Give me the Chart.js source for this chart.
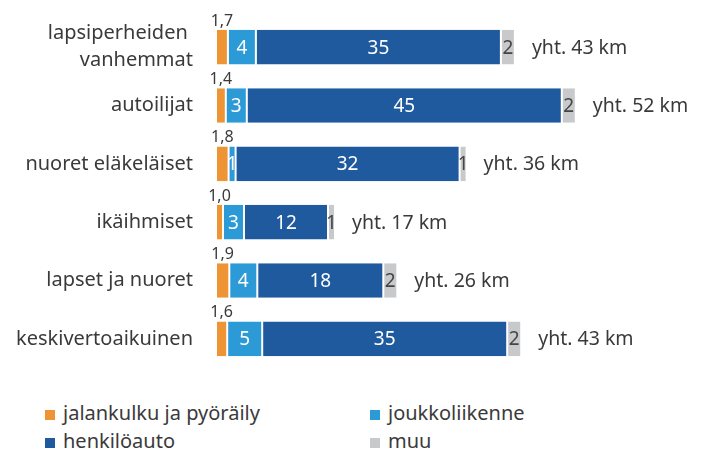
<!DOCTYPE html>
<html>
<head>
<meta charset="utf-8">
<script src="https://cdn.jsdelivr.net/npm/chart.js@4.4.1/dist/chart.umd.min.js"></script>
<style>
    body{margin:0;background:#fff;font-family:'Noto Sans',sans-serif;color:#3a3a3a}
    #wrap{position:relative;width:715px;height:375px}
    #legend{position:absolute;left:0;top:375px;width:715px;height:75px}
    .item{position:absolute;font-size:20px;line-height:28px;white-space:nowrap}
    .item span{display:inline-block;width:10px;height:10px;margin-right:8px;vertical-align:0px}
</style>
</head>
<body>
<div id="wrap"><canvas id="grafico"></canvas></div>
<div id="legend"></div>
<script>
// ryhmät
var ryhmat = [['lapsiperheiden ', 'vanhemmat'], 'autoilijat', 'nuoret eläkeläiset', 'ikäihmiset', 'lapset ja nuoret', 'keskivertoaikuinen']

// km / vrk kulkutavoittain
var jalankulku = [1.7, 1.4, 1.8, 1.0, 1.9, 1.6]
var joukkoliikenne = [4, 3, 1, 3, 4, 5]
var henkiloauto = [35, 45, 32, 12, 18, 35]
var muu = [2, 2, 1, 1, 2, 2]
var yhteensa = [43, 52, 36, 17, 26, 43]

var sarjat = ['jalankulku ja pyöräily', 'joukkoliikenne', 'henkilöauto', 'muu']
var varit = ['#ee9435', '#2b9ad6', '#1f5a9e', '#c8c9cb']

// piirtää arvot palkkeihin ja yhteissummat
var etiketit = {
    id: 'etiketit',
    afterDatasetsDraw: function(chart){
        var ctx = chart.ctx
        ctx.save()
        chart.data.datasets.forEach(function(ds, d){
            var meta = chart.getDatasetMeta(d)
            meta.data.forEach(function(bar, i){
                var v = ds.data[i]
                var keski = (bar.base + bar.x) / 2
                if(d == 0){
                    ctx.font = '16px "Noto Sans"'
                    ctx.fillStyle = '#3a3a3a'
                    ctx.textAlign = 'center'
                    ctx.textBaseline = 'alphabetic'
                    ctx.fillText(v.toFixed(1).replace('.', ','), keski, bar.y - bar.height / 2 - 4)
                }else{
                    ctx.font = '19px "Noto Sans"'
                    ctx.fillStyle = d == 3 ? '#444' : '#fff'
                    ctx.textAlign = 'center'
                    ctx.textBaseline = 'middle'
                    ctx.fillText(String(v), keski, bar.y + 1)
                }
                if(d == 3){
                    ctx.font = '19.5px "Noto Sans"'
                    ctx.fillStyle = '#3a3a3a'
                    ctx.textAlign = 'left'
                    ctx.textBaseline = 'middle'
                    ctx.fillText('yht. ' + yhteensa[i] + ' km', bar.x + 17, bar.y + 1)
                }
            })
        })
        ctx.restore()
    }
}

var datasets = [jalankulku, joukkoliikenne, henkiloauto, muu].map(function(arr, n){
    return {
        label: sarjat[n],
        data: arr,
        backgroundColor: varit[n],
        borderColor: '#fff',
        borderWidth: {left: 1, right: 1, top: 0, bottom: 0},
        borderSkipped: false,
        barPercentage: 0.595,
        categoryPercentage: 1
    }
})

new Chart(document.getElementById('grafico').getContext('2d'), {
    type: 'bar',
    data: {labels: ryhmat, datasets: datasets},
    plugins: [etiketit],
    options: {
        indexAxis: 'y',
        responsive: true,
        maintainAspectRatio: false,
        animation: false,
        layout: {padding: {top: 18, bottom: 7, right: 9, left: 0}},
        plugins: {legend: {display: false}, tooltip: {enabled: false}},
        scales: {
            x: {stacked: true, display: false, min: 0, max: 70},
            y: {
                stacked: true,
                grid: {display: false, drawTicks: false},
                border: {display: false},
                ticks: {color: '#3a3a3a', padding: 23, font: {family: 'Noto Sans', size: 20, lineHeight: 1.35}},
                afterFit: function(scale){
                    // kiinteä leveys, ei ylimääräistä täytettä ylös ja alas
                    scale.width = 216
                    scale.paddingTop = 0
                    scale.paddingBottom = 0
                }
            }
        }
    }
})

// selite kahteen sarakkeeseen
var legend = document.getElementById('legend')
sarjat.forEach(function(nimi, n){
    var el = document.createElement('div')
    el.className = 'item'
    el.style.left = (45 + (n % 2) * 325) + 'px'
    el.style.top = (24 + Math.floor(n / 2) * 28) + 'px'
    el.innerHTML = '<span style="background:' + varit[n] + '"></span>' + nimi
    legend.appendChild(el)
})
</script>
</body>
</html>
